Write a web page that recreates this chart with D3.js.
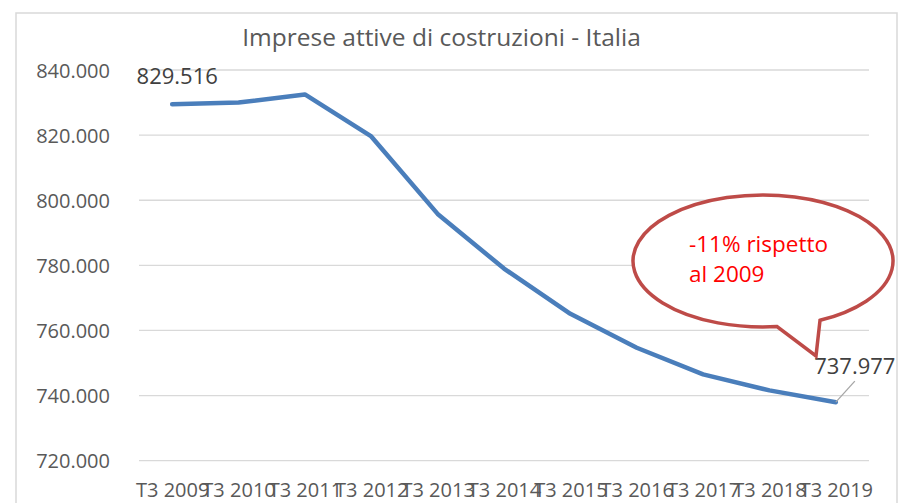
<!DOCTYPE html>
<html><head><meta charset="utf-8">
<script src="https://cdn.jsdelivr.net/npm/d3@7"></script>
<style>html,body{margin:0;padding:0;background:#fff;}svg{display:block;}</style>
</head><body>
<svg id="c" width="902" height="503"></svg>
<script>
const categories = ["T3 2009","T3 2010","T3 2011","T3 2012","T3 2013","T3 2014","T3 2015","T3 2016","T3 2017","T3 2018","T3 2019"];
const values = [829516, 830000, 832500, 819600, 795800, 779000, 765100, 754700, 746500, 741600, 737977];
const yTicks = [720000, 740000, 760000, 780000, 800000, 820000, 840000];
const title = "Imprese attive di costruzioni - Italia";
const calloutLines = ["-11% rispetto", "al 2009"];

const FONT = "'Open Sans', 'Liberation Sans', sans-serif";
const svg = d3.select("#c");
const it = d3.formatLocale({decimal: ",", thousands: ".", grouping: [3], currency: ["€", ""]});
const fmtInt = v => it.format(",")(v);

// outer chart border
svg.append("rect").attr("x", 16).attr("y", 13).attr("width", 881).attr("height", 500)
  .attr("fill", "#fff").attr("stroke", "#d9d9d9").attr("stroke-width", 1.5);

const x = d3.scalePoint().domain(categories).range([139, 869]).padding(0.5);
const y = d3.scaleLinear().domain([720000, 840000]).range([460.7, 70]);

// gridlines
svg.append("g").selectAll("line").data(yTicks).join("line")
  .attr("x1", 139).attr("x2", 869)
  .attr("y1", d => y(d)).attr("y2", d => y(d))
  .attr("stroke", "#d9d9d9").attr("stroke-width", 1.3);

// y axis labels
const yAxis = d3.axisLeft(y).tickValues(yTicks).tickFormat(fmtInt).tickSize(0).tickPadding(0);
const gy = svg.append("g").attr("transform", "translate(110,0)").call(yAxis);
gy.select(".domain").remove();
gy.selectAll("text").attr("fill", "#595959").style("font-family", FONT).style("font-size", "20px").attr("dy", "0.35em");

// x axis labels
const xAxis = d3.axisBottom(x).tickSize(0).tickPadding(0);
const gx = svg.append("g").attr("transform", "translate(0,478)").call(xAxis);
gx.select(".domain").remove();
gx.selectAll("text").attr("fill", "#595959").style("font-family", FONT).style("font-size", "20px").attr("dy", "0.95em");

// title
svg.append("text").attr("x", 441.5).attr("y", 46).attr("text-anchor", "middle")
  .attr("fill", "#595959").style("font-family", FONT).style("font-size", "24.5px").text(title);

// line
const line = d3.line().x((d, i) => x(categories[i])).y(d => y(d));
svg.append("path").datum(values).attr("d", line)
  .attr("fill", "none").attr("stroke", "#4a7ebb").attr("stroke-width", 4.5)
  .attr("stroke-linejoin", "round").attr("stroke-linecap", "round");

// data labels
const first = values[0], last = values[values.length - 1];
svg.append("text").attr("x", x(categories[0]) + 5).attr("y", 84).attr("text-anchor", "middle")
  .attr("fill", "#404040").style("font-family", FONT).style("font-size", "22px").text(fmtInt(first));
const lx = x(categories[categories.length - 1]), ly = y(last);
svg.append("line").attr("x1", lx).attr("y1", ly).attr("x2", lx + 19).attr("y2", ly - 21)
  .attr("stroke", "#a6a6a6").attr("stroke-width", 1.3);
svg.append("text").attr("x", lx + 19).attr("y", 374).attr("text-anchor", "middle")
  .attr("fill", "#404040").style("font-family", FONT).style("font-size", "22px").text(fmtInt(last));

// callout
const cx = 763, cy = 261, rx = 130, ry = 66;
const ptOn = xx => [xx, cy + ry * Math.sqrt(1 - Math.pow((xx - cx) / rx, 2))];
const bR = ptOn(820), bL = ptOn(777);
const tip = [816, 356];
const p = `M${bR[0]},${bR[1]} A${rx},${ry} 0 1 0 ${bL[0]},${bL[1]} L${tip[0]},${tip[1]} Z`;
svg.append("path").attr("d", p).attr("fill", "#fff").attr("stroke", "#be4b48")
  .attr("stroke-width", 3.5).attr("stroke-linejoin", "miter");
svg.append("g").selectAll("text").data(calloutLines).join("text")
  .attr("x", 689).attr("y", (d, i) => 252 + i * 30)
  .attr("fill", "#ff0000").style("font-family", FONT).style("font-size", "22.5px").text(d => d);
</script>
</body></html>
